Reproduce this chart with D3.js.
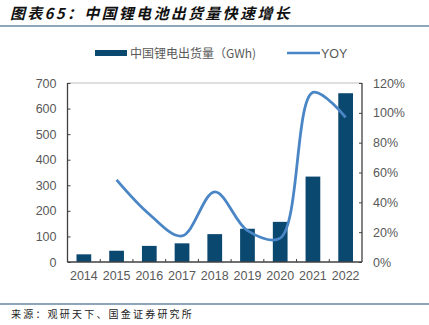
<!DOCTYPE html>
<html><head><meta charset="utf-8">
<script src="https://cdn.jsdelivr.net/npm/d3@7"></script>
<style>body{margin:0;background:#fff}svg{display:block}</style>
</head><body>
<script>
const years = ["2014","2015","2016","2017","2018","2019","2020","2021","2022"];
const shipments = [30, 44, 63, 73, 109, 130, 157, 334, 660];
const yoyYears = ["2015","2016","2017","2018","2019","2020","2021","2022"];
const yoy = [0.55, 0.32, 0.175, 0.47, 0.21, 0.16, 1.137, 0.97];
const leftTicks = [0,100,200,300,400,500,600,700];
const rightTicks = [0,0.2,0.4,0.6,0.8,1.0,1.2];

const W=429,H=325;
const svg=d3.select("body").append("svg").attr("width",W).attr("height",H);
const m={l:67.5,r:362,t:83,b:262};
const x=d3.scaleBand().domain(years).range([m.l,m.r]).paddingInner(0.55).paddingOuter(0.275);
const yL=d3.scaleLinear().domain([0,700]).range([m.b,m.t]);
const yR=d3.scaleLinear().domain([0,1.2]).range([m.b,m.t]);
const font="Arial, 'Liberation Sans', sans-serif";
const grey="#595959";

// title
svg.append("text").attr("x",10).attr("y",19).text("图表65：中国锂电池出货量快速增长")
  .attr("font-family","'Noto Sans CJK SC'").attr("font-size",15).attr("font-style","italic")
  .attr("font-weight","bold").attr("letter-spacing",2.3).attr("fill","#111");
svg.append("line").attr("x1",0).attr("x2",W).attr("y1",26).attr("y2",26).attr("stroke","#1f4e79").attr("stroke-width",1.2);
svg.append("line").attr("x1",0).attr("x2",W).attr("y1",304).attr("y2",304).attr("stroke","#1f4e79").attr("stroke-width",1.2);
svg.append("text").attr("x",11).attr("y",318).text("来源：观研天下、国金证券研究所")
  .attr("font-family","'Noto Sans CJK SC'").attr("font-size",10).attr("letter-spacing",2.2).attr("fill","#222");

// legend
svg.append("rect").attr("x",95).attr("y",50).attr("width",32).attr("height",6).attr("fill","#0a4870");
svg.append("text").attr("x",130).attr("y",57.5).text("中国锂电出货量（GWh)")
  .attr("font-family","'Noto Sans CJK SC'").attr("font-size",12).attr("fill",grey);
svg.append("line").attr("x1",287).attr("x2",320).attr("y1",53).attr("y2",53).attr("stroke","#4a86c5").attr("stroke-width",2.5);
svg.append("text").attr("x",321).attr("y",58).text("YOY").attr("font-family",font).attr("font-size",12.5).attr("fill",grey);

// top border
svg.append("line").attr("x1",m.l).attr("x2",m.r).attr("y1",m.t).attr("y2",m.t).attr("stroke","#bfbfbf").attr("stroke-width",1);

// bars
svg.append("g").selectAll("rect").data(years).join("rect")
  .attr("x",d=>x(d)).attr("width",x.bandwidth())
  .attr("y",(d,i)=>yL(shipments[i])).attr("height",(d,i)=>m.b-yL(shipments[i]))
  .attr("fill","#0a4870");

// line
const line=d3.line().x(d=>x(d[0])+x.bandwidth()/2).y(d=>yR(d[1])).curve(d3.curveCatmullRom.alpha(0.5));
svg.append("path").datum(yoyYears.map((d,i)=>[d,yoy[i]])).attr("d",line)
  .attr("fill","none").attr("stroke","#4a86c5").attr("stroke-width",2.8);

// axes
const axL=svg.append("g").attr("transform",`translate(${m.l},0)`)
  .call(d3.axisLeft(yL).tickValues(leftTicks).tickSize(-3).tickPadding(11).tickFormat(d3.format("d")));
const axR=svg.append("g").attr("transform",`translate(${m.r},0)`)
  .call(d3.axisRight(yR).tickValues(rightTicks).tickSize(-3).tickPadding(11).tickFormat(d3.format(".0%")));
const axB=svg.append("g").attr("transform",`translate(0,${m.b})`)
  .call(d3.axisBottom(x).tickSize(0).tickPadding(9));
// category separator ticks
const seps=years.slice(1).map(d=>x(d)-x.step()*x.paddingInner()/2);
svg.append("g").selectAll("line").data(seps).join("line")
  .attr("x1",d=>d).attr("x2",d=>d).attr("y1",m.b).attr("y2",m.b-3).attr("stroke","#404040");
[axL,axR,axB].forEach(a=>{
  a.selectAll(".domain").attr("stroke","#404040").attr("stroke-width",1.3);
  a.selectAll(".tick line").attr("stroke","#404040");
  a.selectAll("text").attr("font-family",font).attr("font-size",12.5).attr("fill",grey);
});
axL.select(".domain").attr("d",`M0,${m.t}V${m.b}`);
axR.select(".domain").attr("d",`M0,${m.t}V${m.b}`);
axB.select(".domain").attr("d",`M${m.l},0H${m.r}`);
</script>
</body></html>
